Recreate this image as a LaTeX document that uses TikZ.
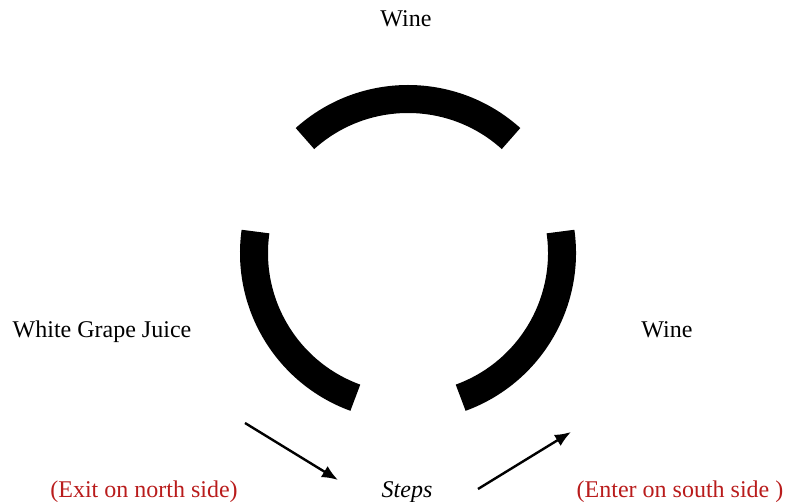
\documentclass[tikz,border=0pt]{standalone}
\usepackage{fontspec}
\setmainfont{Liberation Serif}
\usepackage{xcolor}
\usetikzlibrary{arrows.meta}
\definecolor{notered}{RGB}{185,28,28}

\begin{document}
\begin{tikzpicture}[
  x=1pt, y=1pt,
  ring/.style={line width=28pt, black},
  lbl/.style={font=\fontsize{24}{28}\selectfont, inner sep=0pt, anchor=base},
  note/.style={lbl, text=notered},
  arr/.style={-{Latex[length=16pt,width=13pt]}, line width=2.4pt}
]
\useasboundingbox (0,0) rectangle (796,502);
\coordinate (c) at (408,249);
% the broken ring
\draw[ring] (c) ++(48:154) arc[start angle=48, end angle=132, radius=154];
\draw[ring] (c) ++(172:154) arc[start angle=172, end angle=250, radius=154];
\draw[ring] (c) ++(-70:154) arc[start angle=-70, end angle=8, radius=154];
% labels
\node[lbl] (wineTop) at (406,475) {Wine};
\node[lbl] (juice) at (102,164) {White Grape Juice};
\node[lbl] (wineRight) at (667,164) {Wine};
\node[lbl, font=\fontsize{24}{28}\selectfont\itshape] (steps) at (407,4) {Steps};
\node[note] (exitNote) at (144,4) {(Exit on north side)};
\node[note] (enterNote) at (680,4) {(Enter on south side )};
% arrows
\coordinate (exitStart) at (245,79);
\coordinate (exitEnd) at (338,22);
\coordinate (enterStart) at (478,13);
\coordinate (enterEnd) at (571,70);
\draw[arr] (exitStart) -- (exitEnd);
\draw[arr] (enterStart) -- (enterEnd);
\end{tikzpicture}
\end{document}
